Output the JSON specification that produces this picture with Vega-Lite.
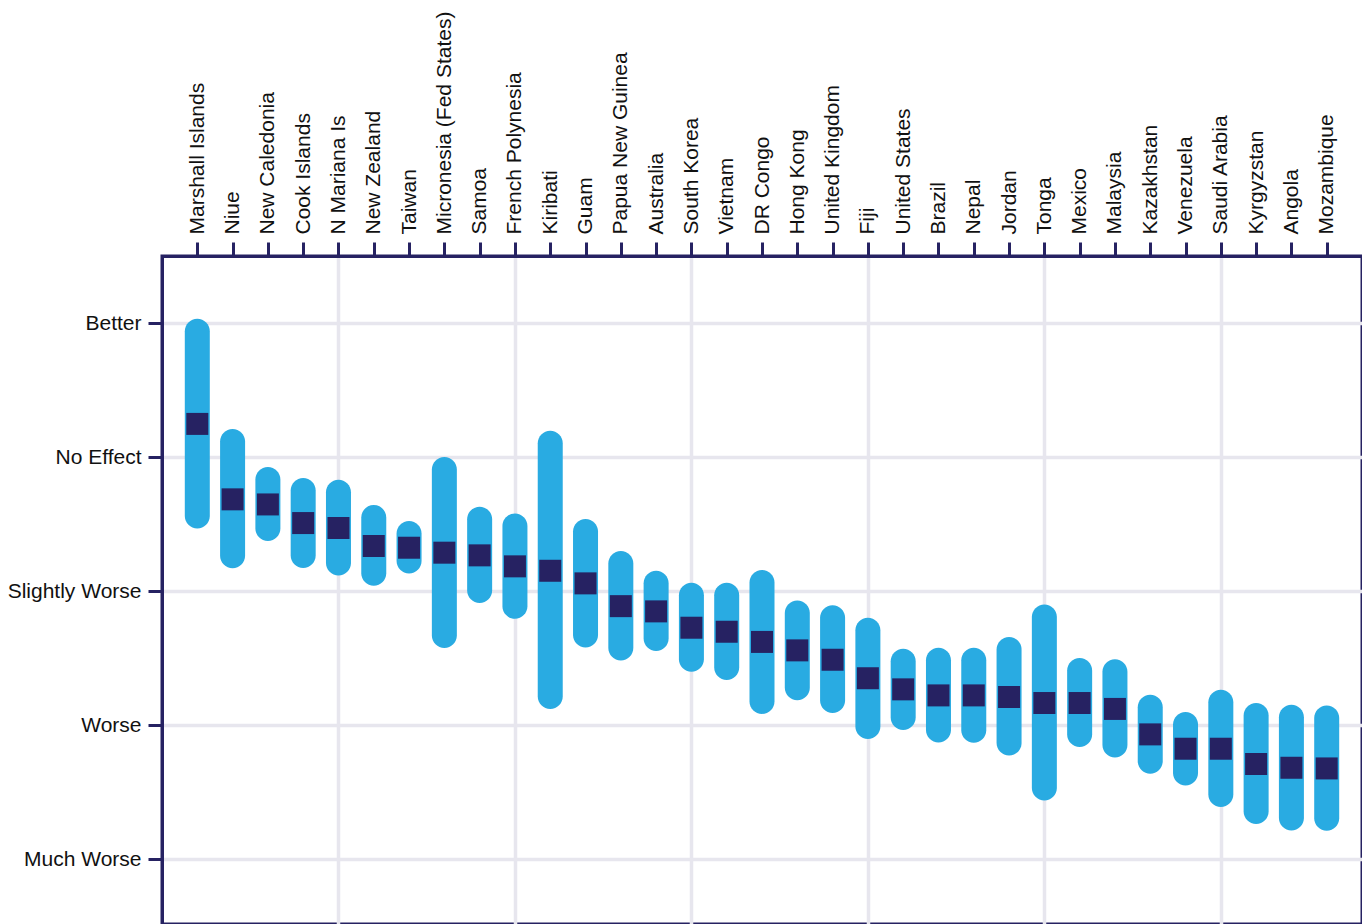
{
  "$schema": "https://vega.github.io/schema/vega-lite/v6.json",
  "width": 1200,
  "height": 668,
  "autosize": {"type": "none"},
  "padding": {"left": 162, "top": 256, "right": 0, "bottom": 0},
  "background": "white",
  "config": {
    "font": "Liberation Sans",
    "view": {"stroke": "#262262", "strokeWidth": 3},
    "axis": {
      "labelFont": "Liberation Sans",
      "labelFontSize": 21,
      "labelColor": "#111111",
      "labelLimit": 0,
      "domainColor": "#262262",
      "domainWidth": 3,
      "tickColor": "#262262",
      "tickWidth": 3,
      "tickSize": 14,
      "gridColor": "#e7e6ee",
      "gridWidth": 3.5,
      "title": null
    }
  },
  "data": {
    "values": [
      {"country": "Marshall Islands", "low": 2.467, "high": 4.032, "med": 3.247},
      {"country": "Niue", "low": 2.169, "high": 3.209, "med": 2.684},
      {"country": "New Caledonia", "low": 2.373, "high": 2.925, "med": 2.646},
      {"country": "Cook Islands", "low": 2.172, "high": 2.843, "med": 2.507},
      {"country": "N Mariana Is", "low": 2.116, "high": 2.831, "med": 2.47},
      {"country": "New Zealand", "low": 2.04, "high": 2.642, "med": 2.336},
      {"country": "Taiwan", "low": 2.131, "high": 2.522, "med": 2.323},
      {"country": "Micronesia (Fed States)", "low": 1.575, "high": 3.0, "med": 2.286},
      {"country": "Samoa", "low": 1.91, "high": 2.629, "med": 2.266},
      {"country": "French Polynesia", "low": 1.793, "high": 2.579, "med": 2.184},
      {"country": "Kiribati", "low": 1.119, "high": 3.196, "med": 2.151},
      {"country": "Guam", "low": 1.579, "high": 2.537, "med": 2.057},
      {"country": "Papua New Guinea", "low": 1.482, "high": 2.299, "med": 1.887},
      {"country": "Australia", "low": 1.552, "high": 2.151, "med": 1.848},
      {"country": "South Korea", "low": 1.398, "high": 2.062, "med": 1.726},
      {"country": "Vietnam", "low": 1.336, "high": 2.062, "med": 1.696},
      {"country": "DR Congo", "low": 1.082, "high": 2.157, "med": 1.62},
      {"country": "Hong Kong", "low": 1.184, "high": 1.93, "med": 1.557},
      {"country": "United Kingdom", "low": 1.09, "high": 1.893, "med": 1.487},
      {"country": "Fiji", "low": 0.896, "high": 1.801, "med": 1.349},
      {"country": "United States", "low": 0.963, "high": 1.569, "med": 1.266},
      {"country": "Brazil", "low": 0.87, "high": 1.577, "med": 1.221},
      {"country": "Nepal", "low": 0.868, "high": 1.577, "med": 1.221},
      {"country": "Jordan", "low": 0.773, "high": 1.657, "med": 1.209},
      {"country": "Tonga", "low": 0.437, "high": 1.9, "med": 1.164},
      {"country": "Mexico", "low": 0.836, "high": 1.5, "med": 1.164},
      {"country": "Malaysia", "low": 0.758, "high": 1.49, "med": 1.12},
      {"country": "Kazakhstan", "low": 0.637, "high": 1.226, "med": 0.93},
      {"country": "Venezuela", "low": 0.549, "high": 1.097, "med": 0.823},
      {"country": "Saudi Arabia", "low": 0.388, "high": 1.263, "med": 0.823},
      {"country": "Kyrgyzstan", "low": 0.261, "high": 1.164, "med": 0.709},
      {"country": "Angola", "low": 0.213, "high": 1.151, "med": 0.681},
      {"country": "Mozambique", "low": 0.211, "high": 1.146, "med": 0.676}
    ]
  },
  "layer": [
    {
      "mark": {"type": "bar", "width": 25, "cornerRadius": 12.5, "color": "#29abe2"},
      "encoding": {
        "x": {
          "field": "country",
          "type": "nominal",
          "sort": null,
          "scale": {"type": "point", "padding": 1},
          "axis": {
            "orient": "top",
            "labelAngle": -90,
            "labelAlign": "left",
            "labelBaseline": "middle",
            "labelPadding": 8,
            "labelOverlap": false,
            "labelBound": false,
            "labelFlush": false,
            "labelLimit": 0,
            "grid": false,
            "title": null
          }
        },
        "y": {
          "field": "low",
          "type": "quantitative",
          "scale": {"domain": [-0.485, 4.5], "nice": false, "zero": false},
          "axis": {
            "orient": "left",
            "values": [0, 1, 2, 3, 4],
            "labelExpr": "['Much Worse','Worse','Slightly Worse','No Effect','Better'][datum.value]",
            "labelPadding": 7,
            "grid": true,
            "title": null
          }
        },
        "y2": {"field": "high"}
      }
    },
    {
      "mark": {"type": "point", "shape": "square", "size": 484, "filled": true, "color": "#262262", "opacity": 1, "strokeWidth": 0},
      "encoding": {
        "x": {
          "field": "country",
          "type": "nominal",
          "sort": null,
          "axis": {
            "orient": "bottom",
            "values": ["N Mariana Is", "French Polynesia", "South Korea", "Fiji", "Tonga", "Saudi Arabia"],
            "grid": true,
            "labels": false,
            "ticks": false,
            "domain": false,
            "title": null
          }
        },
        "y": {"field": "med", "type": "quantitative", "axis": {"title": null}}
      }
    }
  ],
  "resolve": {"axis": {"x": "independent"}}
}
